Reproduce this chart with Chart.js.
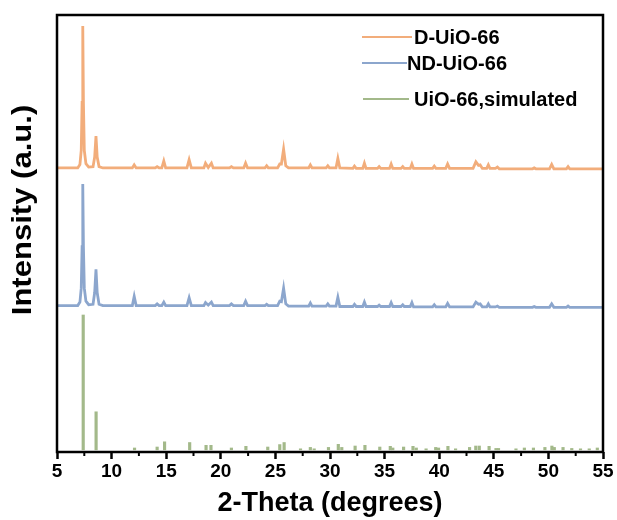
<!DOCTYPE html>
<html>
<head>
<meta charset="utf-8">
<script src="https://cdn.jsdelivr.net/npm/chart.js@4.4.1/dist/chart.umd.min.js"></script>
<style>
  html, body { margin: 0; padding: 0; background: #fff; }
  #wrap { width: 617px; height: 520px; }
</style>
</head>
<body>
<div id="wrap"><canvas id="xrd"></canvas></div>
<script>
// 2-theta positions shared by both measured patterns
const twoTheta = [
  5, 6.9, 7.1, 7.22, 7.3, 7.36, 7.42, 7.5, 7.65, 7.9,
  8.3, 8.45, 8.57, 8.68, 8.85, 9.2, 11.9, 12.07, 12.25, 14.0,
  14.17, 14.35, 14.6, 14.78, 14.95, 16.9, 17.1, 17.3, 18.45, 18.6,
  18.85, 19.14, 19.3, 20.8, 20.97, 21.15, 22.1, 22.27, 22.45, 24.05,
  24.2, 24.35, 25.2, 25.4, 25.55, 25.75, 25.95, 26.2, 28.05, 28.2,
  28.35, 29.65, 29.8, 29.95, 30.55, 30.72, 30.9, 32.1, 32.24, 32.4,
  33.0, 33.15, 33.3, 34.35, 34.5, 34.65, 35.45, 35.6, 35.75, 36.5,
  36.66, 36.8, 37.35, 37.5, 37.65, 39.4, 39.55, 39.7, 40.6, 40.77,
  40.95, 43.1, 43.36, 43.6, 43.75, 43.95, 44.35, 44.5, 44.65, 45.15,
  45.33, 45.5, 48.55, 48.7, 48.85, 50.1, 50.3, 50.5, 51.65, 51.8,
  51.95, 55
];

// D-UiO-66 (offset upward)
const dUio = [
  65.0, 65.0, 65.8, 69.0, 80.0, 97.5, 80.0, 69.0, 66.0, 65.2,
  65.3, 67.5, 72.3, 67.5, 65.3, 65.0, 65.0, 65.7, 65.0, 65.0,
  65.3, 65.0, 65.0, 66.6, 65.0, 65.0, 66.9, 65.0, 65.0, 66.1,
  65.1, 66.1, 65.0, 65.0, 65.3, 65.0, 65.0, 66.1, 65.0, 65.0,
  65.5, 65.0, 65.0, 65.9, 65.9, 69.3, 65.5, 65.0, 65.0, 65.7,
  65.0, 65.0, 65.5, 65.0, 65.0, 67.2, 65.0, 64.9, 65.4, 64.9,
  64.9, 66.1, 64.9, 64.9, 65.3, 64.9, 64.9, 65.9, 64.9, 64.9,
  65.3, 64.9, 64.9, 65.9, 64.9, 64.9, 65.4, 64.9, 64.9, 65.9,
  64.9, 64.9, 66.4, 65.6, 65.7, 64.9, 64.9, 65.7, 64.9, 64.9,
  65.2, 64.8, 64.8, 65.0, 64.8, 64.8, 65.8, 64.8, 64.8, 65.3,
  64.8, 64.8
];

// ND-UiO-66 (middle trace)
const ndUio = [
  33.5, 33.5, 34.3, 37.5, 47.0, 61.3, 47.0, 37.5, 34.5, 33.7,
  33.8, 36.5, 41.8, 36.5, 33.8, 33.5, 33.5, 35.6, 33.5, 33.5,
  33.9, 33.5, 33.5, 34.3, 33.5, 33.5, 35.3, 33.5, 33.5, 34.2,
  33.6, 34.3, 33.5, 33.5, 33.9, 33.5, 33.5, 34.5, 33.5, 33.5,
  33.8, 33.5, 33.5, 34.5, 34.4, 37.5, 33.9, 33.4, 33.4, 34.1,
  33.4, 33.4, 33.9, 33.4, 33.4, 35.4, 33.3, 33.3, 33.8, 33.3,
  33.3, 34.3, 33.3, 33.3, 33.6, 33.3, 33.3, 34.2, 33.3, 33.3,
  33.7, 33.3, 33.3, 34.2, 33.2, 33.2, 33.7, 33.2, 33.2, 34.0,
  33.2, 33.2, 34.3, 33.8, 33.9, 33.2, 33.2, 33.9, 33.2, 33.2,
  33.4, 33.1, 33.1, 33.3, 33.1, 33.1, 33.9, 33.1, 33.1, 33.4,
  33.1, 33.1
];

// simulated reflections: stick positions and heights
const simTheta = [
  7.4, 8.58, 12.1, 14.17, 14.85, 17.15, 18.65, 19.1, 20.97, 22.3,
  24.3, 25.4, 25.8, 27.3, 28.2, 28.55, 29.86, 30.76, 31.08, 32.3,
  33.2, 34.56, 35.52, 35.75, 36.74, 37.6, 37.9, 38.8, 39.68, 39.94,
  40.8, 41.5, 42.78, 43.35, 43.67, 44.57, 45.2, 45.43, 47.03, 47.8,
  48.63, 49.68, 50.32, 50.54, 51.34, 52.14, 52.94, 53.74, 54.48
];
const simTop = [
  31.35, 9.2, 0.92, 1.14, 2.33, 2.17, 1.53, 1.53, 0.92, 1.3,
  1.14, 1.7, 2.17, 0.73, 1.05, 0.73, 1.05, 1.76, 1.05, 1.37,
  1.53, 1.14, 1.3, 0.92, 1.14, 1.3, 0.92, 0.73, 1.05, 0.92,
  1.3, 0.73, 1.05, 1.37, 1.37, 1.3, 0.82, 0.82, 0.73, 0.92,
  0.92, 1.05, 1.37, 1.05, 1.05, 0.82, 0.73, 0.73, 0.92
];
const simBase = 0.5;

const xTicks = [5, 10, 15, 20, 25, 30, 35, 40, 45, 50, 55];

const seriesNames = ['D-UiO-66', 'ND-UiO-66', 'UiO-66,simulated'];
const seriesColors = ['#F2AD7B', '#8CA6CD', '#A3B98A'];

const FONT = 'Arial, "Liberation Sans", sans-serif';

const xyPairs = (xs, ys) => xs.map((x, i) => ({ x: x, y: ys[i] }));

// frame, minor ticks, legend and y title
const decor = {
  id: 'decor',
  afterDraw(chart) {
    const ctx = chart.ctx;
    const a = chart.chartArea;
    const xs = chart.scales.x;
    ctx.save();

    ctx.strokeStyle = '#000';
    ctx.lineWidth = 2.5;
    ctx.strokeRect(a.left, a.top, a.right - a.left, a.bottom - a.top);

    ctx.lineWidth = 2;
    for (let v = 7.5; v < 55; v += 5) {
      const px = xs.getPixelForValue(v);
      ctx.beginPath();
      ctx.moveTo(px, a.bottom);
      ctx.lineTo(px, a.bottom + 4);
      ctx.stroke();
    }

    // legend entries
    const rows = [
      { lx0: 305, lx1: 355, ly: 22, tx: 357 },
      { lx0: 305, lx1: 350, ly: 48, tx: 350 },
      { lx0: 306, lx1: 352, ly: 84, tx: 357 }
    ];
    ctx.font = 'bold 20px ' + FONT;
    ctx.textBaseline = 'middle';
    ctx.textAlign = 'left';
    rows.forEach((r, i) => {
      ctx.strokeStyle = seriesColors[i];
      ctx.lineWidth = 2;
      ctx.beginPath();
      ctx.moveTo(a.left + r.lx0, a.top + r.ly);
      ctx.lineTo(a.left + r.lx1, a.top + r.ly);
      ctx.stroke();
      ctx.fillStyle = '#000';
      ctx.fillText(seriesNames[i], a.left + r.tx, a.top + r.ly + 1);
    });

    // y axis title
    ctx.translate(24, 210);
    ctx.rotate(-Math.PI / 2);
    ctx.scale(1.15, 1);
    ctx.font = 'bold 27px ' + FONT;
    ctx.textAlign = 'center';
    ctx.fillStyle = '#000';
    ctx.fillText('Intensity (a.u.)', 0, 0);
    ctx.restore();
  }
};

new Chart(document.getElementById('xrd'), {
  type: 'line',
  data: {
    datasets: [
      {
        label: seriesNames[0],
        data: xyPairs(twoTheta, dUio),
        borderColor: seriesColors[0],
        borderWidth: 2.8,
        pointRadius: 0,
        tension: 0
      },
      {
        label: seriesNames[1],
        data: xyPairs(twoTheta, ndUio),
        borderColor: seriesColors[1],
        borderWidth: 2.8,
        pointRadius: 0,
        tension: 0
      },
      {
        type: 'bar',
        label: seriesNames[2],
        data: simTheta.map((x, i) => ({ x: x, y: [simBase, simTop[i]] })),
        backgroundColor: seriesColors[2],
        barThickness: 2.5,
        grouped: false
      }
    ]
  },
  options: {
    responsive: true,
    maintainAspectRatio: false,
    animation: false,
    devicePixelRatio: 1,
    layout: { padding: { left: 0, right: 14, top: 15, bottom: 0 } },
    plugins: {
      legend: { display: false },
      tooltip: { enabled: false }
    },
    scales: {
      x: {
        type: 'linear',
        min: 5,
        max: 55,
        offset: false,
        afterBuildTicks: (s) => { s.ticks = xTicks.map(v => ({ value: v })); },
        afterFit: (s) => { s.height = 68; },
        ticks: {
          color: '#000',
          font: { family: FONT, size: 19, weight: 'bold' },
          padding: 1,
          maxRotation: 0
        },
        grid: {
          display: true,
          offset: false,
          drawOnChartArea: false,
          drawTicks: true,
          tickLength: 7,
          tickWidth: 2.5,
          tickColor: '#000'
        },
        border: { display: false },
        title: {
          display: true,
          text: '2-Theta (degrees)',
          color: '#000',
          font: { family: FONT, size: 27, weight: 'bold' },
          padding: { top: 5, bottom: 0 }
        }
      },
      y: {
        min: 0,
        max: 100,
        afterFit: (s) => { s.width = 57; },
        ticks: { display: false },
        grid: { display: false },
        border: { display: false }
      }
    }
  },
  plugins: [decor]
});
</script>
</body>
</html>
